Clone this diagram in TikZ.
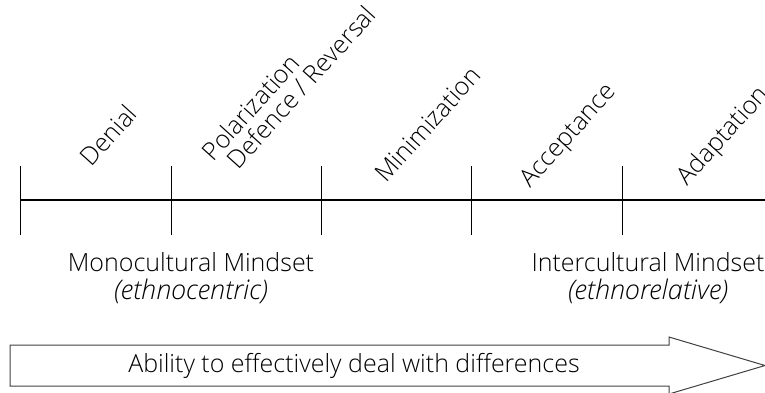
\documentclass[tikz,border=0pt]{standalone}
\usepackage{fontspec}
\IfFontExistsTF{Open Sans Light}{\setmainfont{Open Sans Light}}{\setmainfont{Open Sans}}

\begin{document}
\begin{tikzpicture}[x=1pt,y=-1pt,line width=1.1pt,
    stage/.style={rotate=48,anchor=base west,inner sep=0pt,font=\fontsize{25}{28}\selectfont},
    mindset/.style={align=center,anchor=north,inner sep=0pt,font=\fontsize{25}{28}\selectfont}]
        \useasboundingbox (0,0) rectangle (765,392);

        % scale with the stages
        \draw (20.7,200) -- (765,200);
        \foreach \x in {20.7,171.1,321.5,471.9,622.3}
            \draw (\x,166) -- (\x,235);

        \node[stage] (denial) at (91,168) {Denial};
        \node[stage] (polar) at (213,163) {Polarization};
        \node[stage] (defence) at (238,171) {Defence / Reversal};
        \node[stage] (minim) at (386,184) {Minimization};
        \node[stage] (accept) at (530,189) {Acceptance};
        \node[stage] (adapt) at (687,187) {Adaptation};

        \node[mindset] (mono) at (191,252) {Monocultural Mindset\\\fontsize{27}{28}\selectfont\textit{(ethnocentric)}};
        \node[mindset] (inter) at (648,252) {Intercultural Mindset\\\fontsize{27}{28}\selectfont\textit{(ethnorelative)}};

        % big arrow
        \draw[black!75,line width=1pt] (10,345) -- (669,345) -- (669,337) -- (765,365.5)
            -- (669,394) -- (669,386) -- (10,386) -- cycle;
        \node[font=\fontsize{25}{28}\selectfont] (ability) at (354,365.5) {Ability to effectively deal with differences};
\end{tikzpicture}
\end{document}
